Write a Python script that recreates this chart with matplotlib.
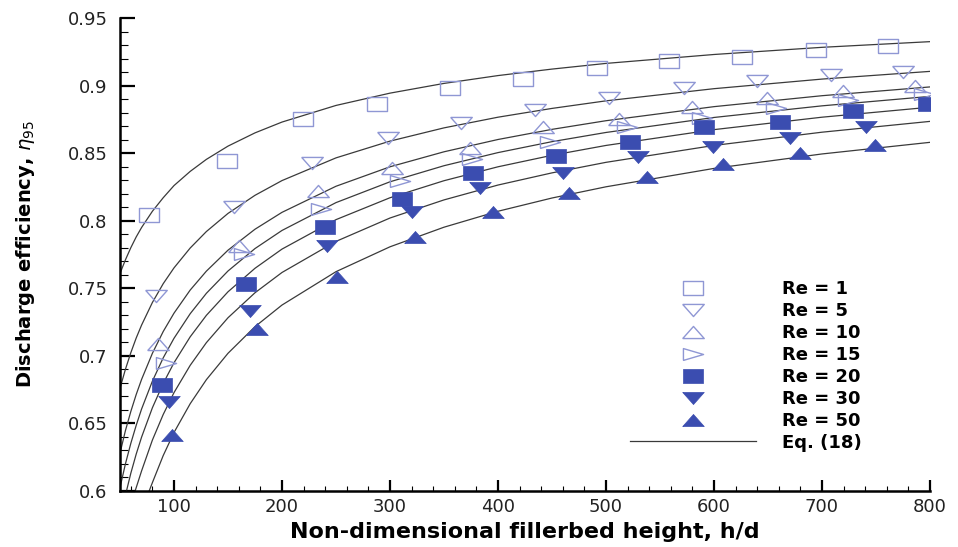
# -*- coding: utf-8 -*-
import matplotlib
matplotlib.use('Agg')
import matplotlib.pyplot as plt
from matplotlib.lines import Line2D

# measured points, h/d vs eta_95
re1_x = [77, 149, 219, 288, 356, 423, 492, 558, 626, 694, 761]
re1_y = [0.804, 0.844, 0.875, 0.886, 0.898, 0.905, 0.913, 0.918, 0.921, 0.926, 0.929]
re5_x = [83, 156, 228, 298, 366, 434, 503, 572, 640, 708, 775]
re5_y = [0.744, 0.810, 0.843, 0.861, 0.872, 0.882, 0.891, 0.898, 0.9035, 0.908, 0.910]
re10_x = [85, 160, 233, 302, 374, 442, 512, 580, 649, 719, 786]
re10_y = [0.709, 0.781, 0.822, 0.839, 0.854, 0.8695, 0.875, 0.884, 0.891, 0.896, 0.900]
re15_x = [93, 165, 236, 309, 376, 448, 519, 589, 657, 724, 794]
re15_y = [0.695, 0.775, 0.809, 0.8295, 0.846, 0.858, 0.869, 0.876, 0.8835, 0.889, 0.894]
re20_x = [89, 167, 240, 311, 377, 454, 522, 591, 661, 729, 798]
re20_y = [0.6785, 0.753, 0.795, 0.816, 0.835, 0.848, 0.858, 0.869, 0.873, 0.881, 0.886]
re30_x = [95, 170, 242, 320, 383, 460, 530, 599, 670, 741]
re30_y = [0.666, 0.733, 0.781, 0.8065, 0.824, 0.835, 0.847, 0.8546, 0.861, 0.869]
re50_x = [98, 177, 251, 323, 395, 466, 538, 608, 680, 749]
re50_y = [0.6415, 0.720, 0.758, 0.788, 0.8065, 0.8206, 0.8324, 0.842, 0.8502, 0.856]

# Eq. (18) curves
eq_x = [50, 55, 60, 65, 70, 80, 90, 100, 115, 130, 150, 175, 200, 250, 300,
        350, 400, 450, 500, 600, 700, 800]
eq_re1 = [0.761, 0.771, 0.780, 0.788, 0.795, 0.807, 0.817, 0.826, 0.8365, 0.8454,
          0.8552, 0.865, 0.873, 0.8853, 0.8944, 0.9016, 0.9074, 0.9122, 0.9164,
          0.9230, 0.9283, 0.9325]
eq_re5 = [0.676, 0.690, 0.7023, 0.7132, 0.7228, 0.7395, 0.7534, 0.7651, 0.7798,
          0.792, 0.8054, 0.8188, 0.8297, 0.8465, 0.8589, 0.8687, 0.8766, 0.8831,
          0.8887, 0.8977, 0.9048, 0.9105]
eq_re10 = [0.628, 0.6446, 0.6588, 0.6714, 0.6826, 0.7019, 0.718, 0.7316, 0.7487,
           0.7627, 0.7782, 0.7937, 0.8062, 0.8255, 0.8399, 0.851, 0.8601, 0.8676,
           0.874, 0.8844, 0.8925, 0.899]
eq_re15 = [0.6025, 0.620, 0.6352, 0.6486, 0.6607, 0.6813, 0.6985, 0.713, 0.7312,
           0.7463, 0.7628, 0.7794, 0.7928, 0.8134, 0.8288, 0.8407, 0.8504, 0.8585,
           0.8653, 0.8764, 0.885, 0.892]
eq2_x = [56, 60, 65, 70, 80, 90, 100, 115, 130, 150, 175, 200, 250, 300,
         350, 400, 450, 500, 600, 700, 800]
eq_re20 = [0.600, 0.6131, 0.6273, 0.6399, 0.6616, 0.6796, 0.6949, 0.7141, 0.730,
           0.7474, 0.7648, 0.779, 0.8008, 0.817, 0.8296, 0.8399, 0.8484, 0.8557,
           0.8674, 0.8766, 0.884]
eq3_x = [64, 70, 80, 90, 100, 115, 130, 150, 175, 200, 250, 300,
         350, 400, 450, 500, 600, 700, 800]
eq_re30 = [0.600, 0.6149, 0.6377, 0.6566, 0.6728, 0.693, 0.7098, 0.7282, 0.7467,
           0.7617, 0.7847, 0.802, 0.8154, 0.8264, 0.8354, 0.8432, 0.8557, 0.8655,
           0.8735]
eq4_x = [77, 80, 90, 100, 115, 130, 150, 175, 200, 250, 300,
         350, 400, 450, 500, 600, 700, 800]
eq_re50 = [0.600, 0.6062, 0.6262, 0.6433, 0.6646, 0.6824, 0.7019, 0.7216, 0.7376,
           0.7623, 0.7807, 0.7952, 0.807, 0.8168, 0.8251, 0.8387, 0.8494, 0.858]

labels = ['Re = 1', 'Re = 5', 'Re = 10', 'Re = 15', 'Re = 20', 'Re = 30', 'Re = 50']
x_ticks = [100, 200, 300, 400, 500, 600, 700, 800]
y_ticks = [0.6, 0.65, 0.7, 0.75, 0.8, 0.85, 0.9, 0.95]
y_ticklabels = ['0.6', '0.65', '0.7', '0.75', '0.8', '0.85', '0.9', '0.95']

# stretched marker shapes (the original picture is wider than tall)
m_sq = [(-1.5, -1), (1.5, -1), (1.5, 1), (-1.5, 1), (-1.5, -1)]
m_dn = [(-1.6, 0.9), (1.6, 0.9), (0, -0.9), (-1.6, 0.9)]
m_up = [(-1.6, -0.9), (1.6, -0.9), (0, 0.9), (-1.6, -0.9)]
m_rt = [(-1.7, -1), (1.7, 0), (-1.7, 1), (-1.7, -1)]

light = '#8f97d4'
dark = '#3b4db0'

fig = plt.figure(figsize=(9.58, 5.47), dpi=100)
ax = fig.add_axes([120/958., 1 - 491/547., 810/958., 473/547.])

curve_kw = dict(color='#3a3a3a', lw=0.9, zorder=2)
ax.plot(eq_x, eq_re1, **curve_kw)
ax.plot(eq_x, eq_re5, **curve_kw)
ax.plot(eq_x, eq_re10, **curve_kw)
ax.plot(eq_x, eq_re15, **curve_kw)
ax.plot(eq2_x, eq_re20, **curve_kw)
ax.plot(eq3_x, eq_re30, **curve_kw)
ax.plot(eq4_x, eq_re50, **curve_kw)

series = [(re1_x, re1_y, m_sq, 14.4, False),
          (re5_x, re5_y, m_dn, 15.5, False),
          (re10_x, re10_y, m_up, 15.5, False),
          (re15_x, re15_y, m_rt, 14.5, False),
          (re20_x, re20_y, m_sq, 14.4, True),
          (re30_x, re30_y, m_dn, 15.5, True),
          (re50_x, re50_y, m_up, 15.5, True)]

handles = []
for (xs, ys, mk, ms, filled), lab in zip(series, labels):
    if filled:
        kw = dict(marker=mk, ms=ms, mfc=dark, mec=dark, mew=0.5, ls='none')
    else:
        kw = dict(marker=mk, ms=ms, mfc='none', mec=light, mew=1.0, ls='none')
    ax.plot(xs, ys, zorder=3, **kw)
    handles.append(Line2D([], [], label=lab, **kw))
handles.append(Line2D([], [], color='#3a3a3a', lw=0.9, label='Eq. (18)'))

ax.set_xlim(50, 800)
ax.set_ylim(0.6, 0.95)
ax.set_xticks(x_ticks)
ax.set_xticks(range(60, 801, 20), minor=True)
ax.set_yticks(y_ticks)
ax.set_yticklabels(y_ticklabels)
ax.set_yticks([0.6 + 0.01 * i for i in range(36)], minor=True)

for s in ['top', 'right']:
    ax.spines[s].set_visible(False)
for s in ['left', 'bottom']:
    ax.spines[s].set_linewidth(1.8)

ax.tick_params(axis='y', which='major', direction='in', length=11, width=1.6,
               pad=9, labelsize=13, labelcolor='#222222')
ax.tick_params(axis='y', which='minor', direction='in', length=5.5, width=0.8)
ax.tick_params(axis='x', which='major', direction='in', length=8, width=1.6,
               pad=5, labelsize=13, labelcolor='#222222')
ax.tick_params(axis='x', which='minor', direction='in', length=3.5, width=0.8)

ax.set_xlabel('Non-dimensional fillerbed height, h/d', fontsize=16,
              fontweight='bold', labelpad=4)
ax.set_ylabel(r'Discharge efficiency, $\eta_{95}$', fontsize=14,
              fontweight='bold', labelpad=22)

leg = ax.legend(handles=handles, loc='upper left',
                bbox_to_anchor=(630/958., 1 - 280/547.),
                bbox_transform=fig.transFigure, frameon=False, numpoints=1,
                handlelength=7.0, handletextpad=1.4, labelspacing=0.22,
                borderpad=0, borderaxespad=0,
                prop={'size': 13, 'weight': 'bold'})

plt.savefig('out.png', dpi=100)
plt.close()
